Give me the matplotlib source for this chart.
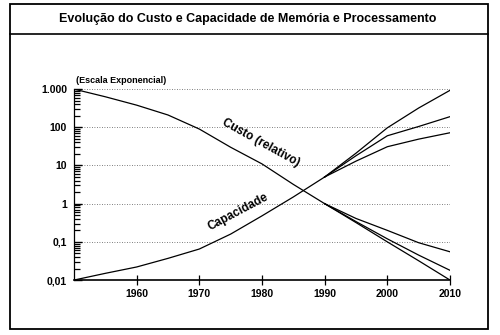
import matplotlib
matplotlib.use("Agg")
import matplotlib.pyplot as plt
from matplotlib.patches import Rectangle
from matplotlib.lines import Line2D

plt.rcParams["font.family"] = ["Liberation Sans", "DejaVu Sans"]
plt.rcParams["font.weight"] = "bold"

# Dados (escala logarítmica)
anos = [1950, 1955, 1960, 1965, 1970, 1975, 1980, 1985, 1990]
custo = [1000, 630, 380, 210, 90, 30, 11, 3.2, 1]
capacidade = [0.01, 0.015, 0.022, 0.037, 0.065, 0.16, 0.48, 1.5, 5]

anos_proj = [1990, 1995, 2000, 2005, 2010]
cap_alta = [5, 21, 97, 320, 930]
cap_media = [5, 18, 60, 105, 190]
cap_baixa = [5, 13, 31, 49, 72]
custo_alto = [1, 0.41, 0.2, 0.095, 0.055]
custo_medio = [1, 0.34, 0.12, 0.045, 0.018]
custo_baixo = [1, 0.32, 0.1, 0.032, 0.01]

yticks = [0.01, 0.1, 1, 10, 100, 1000]
ylabels = ["0,01", "0,1", "1", "10", "100", "1.000"]
xticks = [1960, 1970, 1980, 1990, 2000, 2010]

fig = plt.figure(figsize=(5, 3.35), dpi=100)
ax = fig.add_axes([0.148, 0.164, 0.752, 0.570])

lw = 0.9
ax.plot(anos, custo, color="black", lw=lw)
ax.plot(anos, capacidade, color="black", lw=lw)
for serie in [cap_alta, cap_media, cap_baixa, custo_alto, custo_medio, custo_baixo]:
    ax.plot(anos_proj, serie, color="black", lw=lw)

ax.set_yscale("log")
ax.set_xlim(1950, 2010)
ax.set_ylim(0.01, 1000)
ax.set_yticks(yticks)
ax.set_yticklabels(ylabels)
menores = [m * d for d in yticks[:-1] for m in range(2, 10)]
ax.set_yticks(menores, minor=True)
ax.set_yticklabels([""] * len(menores), minor=True)
ax.set_xticks(xticks)
ax.set_xticklabels([str(a) for a in xticks])
ax.tick_params(axis="y", which="major", direction="in", length=6, width=1.0,
               labelsize=7.5, pad=5, left=True)
ax.tick_params(axis="y", which="minor", direction="in", length=4, width=0.9, left=True)
ax.tick_params(axis="x", direction="inout", length=7, width=0.9, labelsize=7.5, pad=3)

for spine in ["top", "right"]:
    ax.spines[spine].set_visible(False)
ax.spines["left"].set_linewidth(0.9)
ax.spines["bottom"].set_linewidth(1.2)

for v in [0.1, 1, 10, 100, 1000]:
    ax.axhline(v, color="#555555", lw=0.6, ls=(0, (1, 2)), zorder=0)

ax.text(1950.3, 1250, "(Escala Exponencial)", fontsize=6.5, fontweight="bold",
        ha="left", va="bottom")
ax.text(1979.8, 40, "Custo (relativo)", fontsize=8.5, fontweight="bold",
        rotation=-29, ha="center", va="center", rotation_mode="anchor")
ax.text(1976.2, 0.6, "Capacidade", fontsize=8.5, fontweight="bold",
        rotation=28, ha="center", va="center", rotation_mode="anchor")

# moldura externa e faixa do título
fig.patches.append(Rectangle((10 / 500, 1 - 329 / 335), 478 / 500, 325 / 335,
                             transform=fig.transFigure, fill=False,
                             edgecolor="black", lw=1.3))
fig.lines.append(Line2D([10 / 500, 488 / 500], [1 - 34 / 335, 1 - 34 / 335],
                        transform=fig.transFigure, color="black", lw=1.2))
fig.text(0.496, 1 - 19 / 335, "Evolução do Custo e Capacidade de Memória e Processamento",
         ha="center", va="center", fontsize=9, fontweight="bold")

fig.savefig("out.png", dpi=100)
